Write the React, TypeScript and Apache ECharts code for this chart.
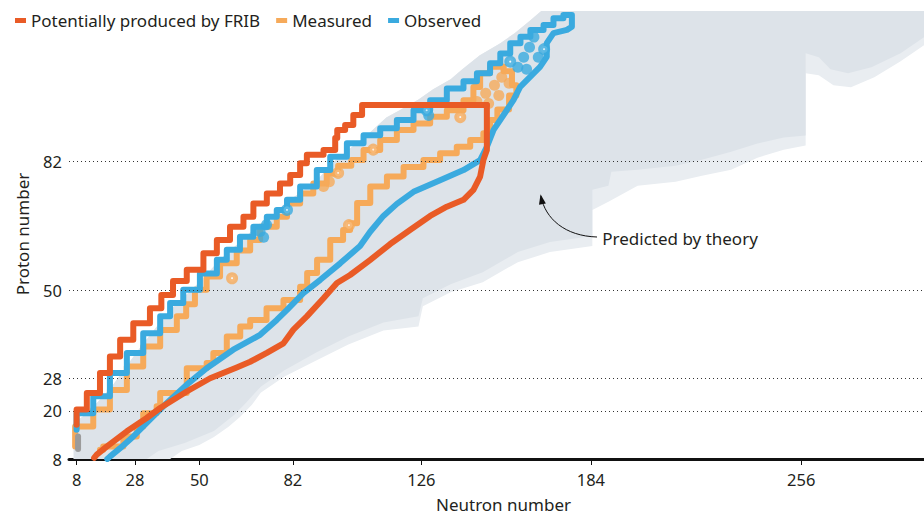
import React, { useEffect, useRef } from "react";
import * as echarts from "echarts";

type Pt = [number, number];

// ---- axes ----
const X_TICKS = [8, 28, 50, 82, 126, 184, 256];
const Y_TICKS = [8, 20, 28, 50, 82];
const MAGIC_Z = [20, 28, 50, 82];

const FRIB = "Potentially produced by FRIB";
const MEAS = "Measured";
const OBS = "Observed";

// ---- FRIB (upper staircase + box, then lower side) [N, Z] ----
const FRIB_UPPER: Pt[] = [
  [8, 16.5], [11.5, 20.3], [16, 24.4], [19.4, 29.4], [22.9, 33.5], [27.4, 37.7], [33.1, 41.8],
  [37, 45.5], [41, 48.8], [45.7, 52.3], [51.4, 55.1], [56, 59.2], [60.5, 62.5], [65.1, 65.8],
  [68.5, 68.3], [73.1, 71.6], [77.6, 74.1], [81.1, 76.6], [84.5, 78.7], [86.8, 81.6],
  [92.5, 83.7], [96.5, 84.9], [97.2, 87.9], [99.9, 89.9], [102.7, 91.1], [105.7, 93.6],
  [110.8, 96.1], [148.4, 96.1],
];
const FRIB_LOWER: Pt[] = [
  [148.4, 96.1], [148.4, 84.9], [147.2, 82.4], [146.1, 78.3], [143.8, 75], [140.4, 72.5],
  [134.7, 70.8], [129, 68.5], [122.1, 65], [115.3, 61.5], [108.4, 57.5], [101.6, 53.8],
  [97.1, 51.8], [92.5, 48], [86.8, 43.5], [82.2, 40.2], [78.8, 36.8], [73.1, 34.4],
  [67.4, 32.2], [62.8, 30.8], [53.7, 28.1], [45.7, 24.8], [36.6, 20.7], [32, 18.2],
  [25.2, 14.9], [18.3, 11.1], [14.9, 9.1], [14, 8.3],
];

// ---- Measured ----
const MEAS_UPPER: Pt[] = [
  [7.5, 11.1], [13.7, 16.1], [19.4, 20.3], [25.2, 25.2], [30.8, 31], [36.6, 36], [42.3, 40.1],
  [45.5, 43.5], [48.5, 46.5], [52.5, 50.1], [57.1, 53.4], [62.8, 56.7], [67.4, 59.9],
  [70.8, 62.5], [76.5, 65.8], [80, 68.3], [84.5, 71.6], [89, 74.1], [93.6, 76.6], [97.5, 79],
  [102, 81], [106.2, 82.4], [111.9, 84.9], [117.6, 87.4], [123.3, 89.9], [129, 91.5],
  [134.7, 93.2], [140.4, 94.8], [143.8, 97.3], [146.1, 100.6], [149.5, 104], [154.1, 105.6],
];
const MEAS_LOWER: Pt[] = [
  [154.1, 105.6], [157, 104.5], [158.5, 101], [156, 98.5], [152, 95], [149.5, 92.4],
  [147.2, 89.1], [142.7, 87.4], [138.1, 85.7], [132.4, 84.1], [126.7, 82.4], [119.9, 80.7],
  [114.2, 78.3], [108.5, 75.8], [104, 71.7], [101.6, 66.7], [99.2, 65], [94.8, 62.5],
  [90.3, 57.6], [86.9, 54.3], [84.5, 50.9], [78.8, 47.6], [73, 45.5], [67.4, 42.6], [64, 41],
  [59.4, 38.5], [54.8, 34.4], [52.5, 31.9], [45.7, 30.6], [36.6, 24.4], [35.4, 21.1],
  [30.8, 19.4], [28.6, 16.1], [24, 13.6], [17.1, 11.1], [16, 10.3],
];

// ---- Observed ----
const OBS_UPPER: Pt[] = [
  [8, 15.3], [13.7, 19.4], [19.4, 23.6], [25.2, 29.4], [30.8, 34.4], [36.6, 39.3], [40, 43.5],
  [44.5, 46.8], [50.2, 50.1], [56, 54.2], [59.4, 57.6], [63.9, 60.1], [68.5, 63.3],
  [73.1, 65.8], [76.5, 68.3], [80, 70], [84.5, 72.5], [90.2, 75.8], [94.8, 79.9],
  [100.5, 83.2], [106.2, 86.6], [111.9, 88.6], [117.6, 90.3], [123.3, 92.4], [129, 94.8],
  [134.7, 97.3], [140.4, 100.2], [145, 102], [149.5, 104], [153, 106.5], [156.4, 108.9],
  [159.9, 111.5], [163.3, 113.1], [167.8, 114.8], [171.2, 116], [174.6, 117.7], [176.5, 118.5],
];
const OBS_LOWER: Pt[] = [
  [176.5, 118.5], [177.5, 118.5], [177.5, 115.6], [175.8, 114.8], [171.2, 114], [168.9, 111.5],
  [168.9, 108.1], [166.6, 105.6], [163.2, 103.1], [159.8, 100.6], [157.5, 97.3], [155.2, 94.8],
  [150.7, 89.9], [148.4, 85.7], [146.1, 82.4], [140.4, 79.9], [132.4, 77.4], [123.3, 74.5],
  [117.6, 71.5], [113, 68.5], [108.4, 64.5], [105, 61], [98.2, 56.7], [91.4, 52.6],
  [85.6, 49.3], [80, 45.1], [76.5, 42.6], [70.8, 38.9], [61.6, 35.2], [52.5, 30.6],
  [45.7, 26.5], [38.8, 21.9], [33.1, 17.8], [27.4, 13.6], [22.9, 10.7], [19.4, 8.6], [18.5, 8],
];

// ---- isolated nuclei (rings with a white centre, and filled blobs) ----
const MEAS_RINGS: Pt[] = [[61.2, 53], [97.5, 79.2], [139.3, 93.1], [109.5, 85], [101.2, 66.2]];
const MEAS_BLOBS: Pt[] = [
  [92.5, 75.8], [94.5, 77], [145, 97], [148, 99], [151, 101], [153.5, 103],
  [156, 101.5], [149, 96.5], [152.5, 98.5],
];
const OBS_RINGS: Pt[] = [[80, 70], [127.8, 94.8], [156.4, 106.9], [168, 110]];
const OBS_BLOBS: Pt[] = [
  [70.8, 64.6], [73, 66.3], [72, 63.2], [161, 108], [163, 110.5], [164.5, 113], [166, 108],
  [162, 105], [159, 105.5], [128.5, 93.5],
];
const OTHER_MARK: Pt[] = [[8.5, 10.5], [8.5, 13.6]];

// ---- region predicted by theory ----
// upper (proton-rich) edge, right to left, shared by both fills
const PRED_UPPER: Pt[] = [
  [298, 119.5], [167, 119.5],
  [163, 117], [158, 114], [153, 111.5], [146, 108.5], [140, 105], [136, 102.5], [130, 100],
  [125, 97.5], [119, 95], [114, 93], [108, 89], [102, 85.5], [96, 82], [91, 78], [85, 74.5],
  [80, 72], [74, 68], [69, 65.5], [64, 62], [59, 59], [55, 56], [50, 52], [45, 48.5], [40, 45],
  [36, 41.5], [30, 36], [25, 31], [20, 26], [15, 22], [10, 18.5], [7, 17],
];
// solid part, lower (neutron-rich) edge, left to right
const PRED_LOWER: Pt[] = [
  [7, 8], [32, 8], [36, 10], [45, 12], [55, 15], [62, 19], [66, 22], [71, 26], [79, 30],
  [90, 34.5], [101, 38.5], [113, 42], [125, 43.5], [126.5, 48], [136, 51.5], [147, 54.5],
  [159, 59.5], [170, 62], [184.5, 63.5], [184.5, 75], [190, 76], [191, 79.5], [200, 80],
  [213, 81], [222, 82.5], [232, 84.5], [241, 86.5], [250, 88], [257.5, 88.5], [257.5, 109],
  [262, 108], [266, 105], [272, 104], [280, 105.5], [290, 109], [298, 113],
];
// sparse (speckled) outer fringe, lower edge, left to right
const FRINGE_LOWER: Pt[] = [
  [7, 8], [40, 8], [44, 10], [50, 11.5], [55, 13.5], [60, 16], [64, 18.5], [68, 21.5],
  [71, 24.5], [79, 28.5], [90, 32.5], [101, 36.5], [113, 40], [125, 41], [126.5, 46],
  [136, 49.5], [147, 52], [159, 57], [170, 59.5], [184.5, 61], [184.5, 70], [190, 72],
  [200, 76], [213, 77], [222, 78.5], [232, 80], [241, 83], [250, 85], [257.5, 86],
  [257.5, 104], [262, 103.5], [267, 101], [273, 100.5], [281, 103], [290, 107], [298, 111],
];

// ---- annotation ----
const NOTE_TEXT = "Predicted by theory";
const NOTE_AT: Pt = [187.9, 62.8];
const ARROW_FROM: Pt = [186.1, 63.25];
const ARROW_C1: Pt = [175.1, 63.5];
const ARROW_C2: Pt = [168.4, 67.8];
const ARROW_TIP: Pt = [166.9, 73.4];

const C_FRIB = "#E95B26";
const C_MEAS = "#F6AA5A";
const C_OBS = "#3AAADF";
const C_GREY = "#DDE3E9";
const C_FRINGE = "#E9EDF1";
const C_TEXT = "#231F20";
const FONT = '"Noto Sans", "Open Sans", sans-serif';

const lineSeries = (name: string, data: Pt[], color: string, z: number, step: any) => ({
  type: "line",
  name,
  data,
  step,
  z,
  symbol: "none",
  silent: true,
  color,
  lineStyle: { color, width: 6, cap: "round", join: "round" },
});

const regionSeries = (name: string, lower: Pt[], fill: string, z: number) => ({
  type: "custom",
  name,
  silent: true,
  z,
  data: [[8, 8]],
  encode: { x: 0, y: 1 },
  renderItem: (_params: any, api: any) => ({
    type: "polygon",
    shape: { points: [...lower, ...PRED_UPPER].map((p) => api.coord(p)) },
    style: { fill },
  }),
});

export default function App() {
  const ref = useRef<HTMLDivElement>(null);

  useEffect(() => {
    if (!ref.current) return;
    const chart = echarts.init(ref.current, undefined, { renderer: "svg" });
    const option: any = {
      animation: false,
      backgroundColor: "#ffffff",
      textStyle: { fontFamily: FONT },
      grid: { left: 69, right: 0, top: 9, bottom: 56, outerBoundsMode: "none", containLabel: false },
      legend: {
        left: 10,
        top: 7,
        icon: "rect",
        itemWidth: 11,
        itemHeight: 5,
        itemGap: 16,
        textStyle: { fontSize: 17, color: C_TEXT, fontFamily: FONT },
        data: [FRIB, MEAS, OBS],
      },
      xAxis: {
        type: "value",
        min: 5.4,
        max: 298,
        name: "Neutron number",
        nameLocation: "middle",
        nameGap: 37,
        nameTextStyle: { fontSize: 17, color: C_TEXT, fontFamily: FONT, padding: [0, 0, 0, 14] },
        axisLine: { show: true, onZero: false, lineStyle: { color: "#111", width: 3 } },
        axisTick: { show: true, customValues: X_TICKS, length: 6, lineStyle: { color: "#111", width: 1 } },
        axisLabel: { customValues: X_TICKS, fontSize: 16.5, color: C_TEXT, margin: 12, fontFamily: FONT },
        splitLine: { show: false },
      },
      yAxis: {
        type: "value",
        min: 8,
        max: 120,
        name: "Proton number",
        nameLocation: "middle",
        nameGap: 38,
        nameRotate: 90,
        nameTextStyle: { fontSize: 17, color: C_TEXT, fontFamily: FONT },
        axisLine: { show: false },
        axisTick: { show: false },
        axisLabel: { customValues: Y_TICKS, fontSize: 16.5, color: C_TEXT, margin: 7, fontFamily: FONT },
        splitLine: { show: false },
      },
      series: [
        regionSeries("Predicted fringe", FRINGE_LOWER, C_FRINGE, 1),
        regionSeries("Predicted by theory", PRED_LOWER, C_GREY, 1),
        {
          type: "line",
          name: "magic",
          data: [[8, 8]],
          symbol: "none",
          silent: true,
          z: 2,
          lineStyle: { opacity: 0 },
          markLine: {
            silent: true,
            symbol: ["none", "none"],
            label: { show: false },
            lineStyle: { color: "#333", width: 1, type: [1, 3] },
            data: MAGIC_Z.map((z) => ({ yAxis: z })),
          },
        },
        lineSeries(MEAS, MEAS_UPPER, C_MEAS, 3, "start"),
        lineSeries(MEAS, MEAS_LOWER, C_MEAS, 3, "start"),
        lineSeries(OBS, OBS_UPPER, C_OBS, 4, "start"),
        lineSeries(OBS, OBS_LOWER, C_OBS, 4, false),
        lineSeries(FRIB, FRIB_UPPER, C_FRIB, 5, "start"),
        lineSeries(FRIB, FRIB_LOWER, C_FRIB, 5, false),
        lineSeries("other", OTHER_MARK, "#9B9B9B", 3, false),
        {
          type: "scatter", name: "meas-blobs", data: MEAS_BLOBS, symbolSize: 11, z: 3, silent: true,
          itemStyle: { color: C_MEAS },
        },
        {
          type: "scatter", name: "meas-rings", data: MEAS_RINGS, symbolSize: 7, z: 3, silent: true,
          itemStyle: { color: "#fff", borderColor: C_MEAS, borderWidth: 5 },
        },
        {
          type: "scatter", name: "obs-blobs", data: OBS_BLOBS, symbolSize: 11, z: 4, silent: true,
          itemStyle: { color: C_OBS },
        },
        {
          type: "scatter", name: "obs-rings", data: OBS_RINGS, symbolSize: 7, z: 4, silent: true,
          itemStyle: { color: "#fff", borderColor: C_OBS, borderWidth: 5 },
        },
      ],
    };
    chart.setOption(option);

    const px = (p: Pt) => chart.convertToPixel({ gridIndex: 0 }, p) as number[];
    const a = px(ARROW_FROM), c1 = px(ARROW_C1), c2 = px(ARROW_C2), t = px(ARROW_TIP), n = px(NOTE_AT);
    const dx = t[0] - c2[0], dy = t[1] - c2[1];
    const len = Math.hypot(dx, dy) || 1;
    const ux = dx / len, uy = dy / len;
    const hl = 8, hw = 3.5;
    const head = [
      [t[0] + ux * 2, t[1] + uy * 2],
      [t[0] - ux * hl - uy * hw, t[1] - uy * hl + ux * hw],
      [t[0] - ux * hl + uy * hw, t[1] - uy * hl - ux * hw],
    ];
    chart.setOption({
      graphic: [
        {
          type: "bezierCurve",
          silent: true,
          z: 10,
          shape: { x1: a[0], y1: a[1], cpx1: c1[0], cpy1: c1[1], cpx2: c2[0], cpy2: c2[1], x2: t[0], y2: t[1] },
          style: { stroke: "#111", lineWidth: 1, fill: null },
        },
        { type: "polygon", silent: true, z: 10, shape: { points: head }, style: { fill: "#111" } },
        {
          type: "text",
          silent: true,
          z: 10,
          x: n[0],
          y: n[1],
          style: { text: NOTE_TEXT, fontSize: 17, fontFamily: FONT, fill: C_TEXT, verticalAlign: "middle", align: "left" },
        },
      ],
    });

    return () => chart.dispose();
  }, []);

  return (
    <div
      ref={ref}
      style={{ position: "fixed", left: 0, top: 0, width: 924, height: 515, background: "#fff" }}
    />
  );
}
